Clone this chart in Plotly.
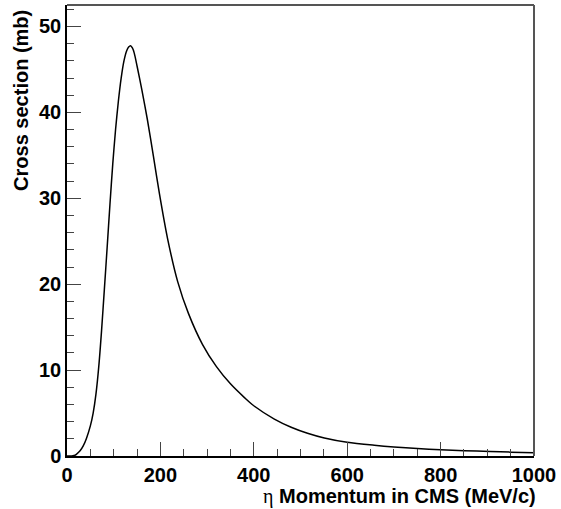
import plotly.graph_objects as go

# eta momentum in the CMS (MeV/c) and cross section (mb)
momentum = [0, 10, 15, 20, 28, 35, 42, 50, 56, 62, 68, 74, 80, 86, 92, 98,
            104, 110, 116, 122, 128, 132, 136, 140, 144, 150, 160, 172, 185,
            198, 215, 237, 260, 290, 320, 350, 380, 400, 444, 480, 515, 551,
            600, 658, 700, 750, 800, 850, 906, 950, 1000]
cross_section = [0, 0.0, 0.05, 0.2, 0.6, 1.2, 2.1, 3.5, 5.0, 7.2, 10.4, 14.6,
                 19.4, 24.3, 29.3, 34.0, 38.0, 41.3, 44.0, 46.0, 47.2, 47.6,
                 47.75, 47.5, 46.9, 45.4, 42.7, 39.2, 34.9, 30.5, 25.4, 20.3,
                 16.6, 13.0, 10.4, 8.4, 6.8, 5.85, 4.3, 3.35, 2.65, 2.1, 1.6,
                 1.25, 1.05, 0.87, 0.73, 0.62, 0.52, 0.45, 0.38]

x_ticks = [0, 200, 400, 600, 800, 1000]
y_ticks = [0, 10, 20, 30, 40, 50]

W, H = 561, 509
L, R, T, B = 67, 23, 5, 53
pw, ph = W - L - R, H - T - B

def px_x(x):
    return (x - L) / pw

def px_y(y):
    return (H - B - y) / ph

bold = dict(family="Arial, Liberation Sans, sans-serif", size=20,
            color="black", weight=700)

fig = go.Figure()
fig.add_trace(go.Scatter(
    x=momentum, y=cross_section, mode="lines",
    line=dict(color="black", width=1.5, shape="spline", smoothing=0.8),
    hoverinfo="skip", showlegend=False,
))

axis_common = dict(
    showgrid=False, zeroline=False, showline=True, linecolor="black",
    ticks="inside", ticklen=14, tickcolor="#444", tickwidth=1,
    tickfont=bold,
)

fig.update_xaxes(
    range=[0, 1000], tickvals=x_ticks,
    ticktext=[f"<b>{v}</b>" for v in x_ticks], linewidth=2,
    minor=dict(dtick=50, tick0=0, ticks="inside", ticklen=7,
               tickcolor="#444", tickwidth=1),
    **axis_common,
)
fig.update_yaxes(
    range=[0, 52.5], tickvals=y_ticks,
    ticktext=[f"<b>{v}</b>" for v in y_ticks], linewidth=1.5,
    minor=dict(dtick=2, tick0=0, ticks="inside", ticklen=7,
               tickcolor="#444", tickwidth=1),
    **axis_common,
)

# frame: top and right borders
fig.add_shape(type="line", xref="paper", yref="paper", x0=0, x1=1, y0=1, y1=1,
              line=dict(color="#555", width=2))
fig.add_shape(type="line", xref="paper", yref="paper", x0=1, x1=1, y0=0, y1=1,
              line=dict(color="#555", width=2))

fig.add_annotation(
    text="<span style=\"font-family:'Liberation Serif';font-weight:normal\">η</span>"
         "<b> Momentum in CMS (MeV/c)</b>",
    xref="paper", yref="paper", x=px_x(542), y=px_y(496),
    xanchor="right", yanchor="middle", showarrow=False, font=bold,
)
fig.add_annotation(
    text="<b>Cross section (mb)</b>", textangle=-90,
    xref="paper", yref="paper", x=px_x(21), y=px_y(8),
    xanchor="center", yanchor="top", showarrow=False, font=bold,
)

fig.update_layout(
    width=W, height=H,
    margin=dict(l=L, r=R, t=T, b=B, pad=0),
    paper_bgcolor="white", plot_bgcolor="white",
)

fig.write_html("out.html")
